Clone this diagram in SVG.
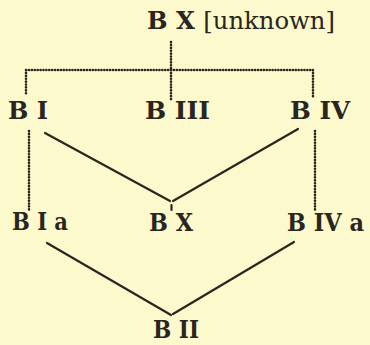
<svg xmlns="http://www.w3.org/2000/svg" width="370" height="345" viewBox="0 0 370 345">
<style>
.bg{fill:#fcf9cc}
.lbl{font-family:"DejaVu Serif","Liberation Serif",serif;font-size:25px;font-weight:bold;fill:#2a2520}
.reg{font-weight:normal}
.dot{fill:none;stroke:#2a2520;stroke-width:2.6;stroke-dasharray:0.1 2.8;stroke-linecap:round}
.sol{fill:none;stroke:#2a2520;stroke-width:2.2;stroke-linecap:round}
</style>
<rect class="bg" x="0" y="0" width="370" height="345"/>
<g id="connectors">
<path class="dot" d="M171 42 V70 M26 70 H313 M26 70 V95 M171 70 V100 M313 70 V98"/>
<path class="dot" d="M29 131 V210 M315 131 V211"/>
<path class="sol" d="M45 133 L170 201 M298 129 L173 201 M171.5 205 V210"/>
<path class="sol" d="M47 243 L171 315 M294 242 L173 314"/>
</g>
<g id="BX_unknown"><text class="lbl" x="147" y="29" textLength="188" lengthAdjust="spacingAndGlyphs">B X <tspan class="reg">[unknown]</tspan></text></g>
<g id="BI"><text class="lbl" x="8" y="119" textLength="40" lengthAdjust="spacingAndGlyphs">B I</text></g>
<g id="BIII"><text class="lbl" x="145" y="119" textLength="65" lengthAdjust="spacingAndGlyphs">B III</text></g>
<g id="BIV"><text class="lbl" x="290" y="119" textLength="60" lengthAdjust="spacingAndGlyphs">B IV</text></g>
<g id="BIa"><text class="lbl" x="12" y="230" textLength="56" lengthAdjust="spacingAndGlyphs">B I a</text></g>
<g id="BX"><text class="lbl" x="149" y="231" textLength="44" lengthAdjust="spacingAndGlyphs">B X</text></g>
<g id="BIVa"><text class="lbl" x="287" y="231" style="font-size:23.5px" textLength="77" lengthAdjust="spacingAndGlyphs">B IV a</text></g>
<g id="BII"><text class="lbl" x="153" y="338" textLength="46" lengthAdjust="spacingAndGlyphs">B II</text></g>
</svg>
